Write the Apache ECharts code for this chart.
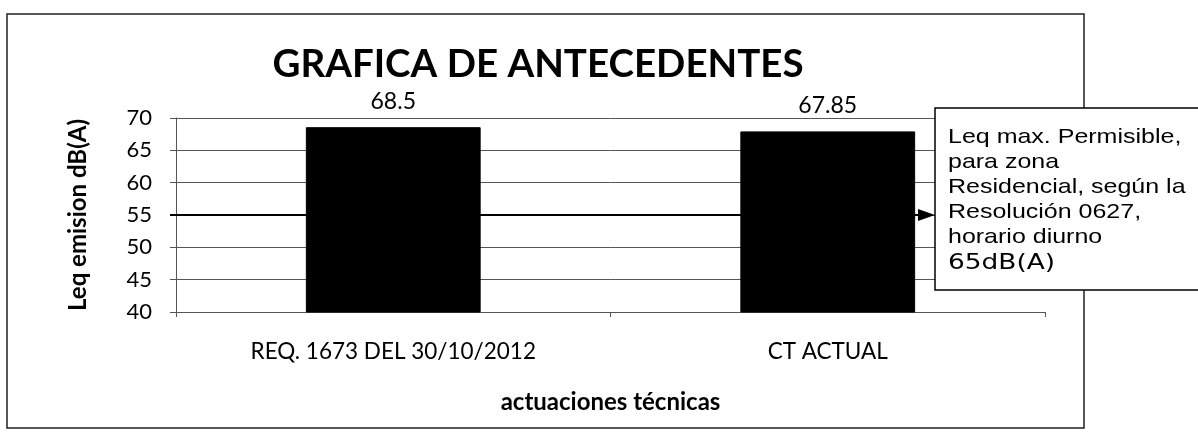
<!DOCTYPE html>
<html>
<head>
<meta charset="utf-8">
<script src="https://cdn.jsdelivr.net/npm/echarts@6/dist/echarts.min.js"></script>
<style>
html,body{margin:0;padding:0;background:#fff;}
#chart{width:1198px;height:437px;}
</style>
</head>
<body>
<div id="chart"></div>
<script>
const categories = ['REQ. 1673 DEL 30/10/2012', 'CT ACTUAL'];
const values = [68.5, 67.85];
const labelTexts = ['68.5', '67.85'];
const limitValue = 55;
const noteLines = ['Leq max. Permisible,', 'para zona', 'Residencial, según la', 'Resolución 0627,', 'horario diurno'];
const noteLast = '65dB(A)';

const FONT = 'Lato, "Open Sans", sans-serif';
const chart = echarts.init(document.getElementById('chart'), null, {renderer: 'canvas'});

const option = {
  backgroundColor: '#fff',
  animation: false,
  title: {
    text: 'GRAFICA DE ANTECEDENTES',
    left: 533, top: 40, textAlign: 'center',
    textStyle: {fontFamily: FONT, fontWeight: 'bold', fontSize: 38.5, color: '#000'}
  },
  grid: {left: 176, right: 153, top: 118, bottom: 125},
  xAxis: {
    type: 'category',
    data: categories,
    name: 'actuaciones técnicas',
    nameLocation: 'middle',
    nameGap: 78,
    nameTextStyle: {fontFamily: FONT, fontWeight: 'bold', fontSize: 24, color: '#000'},
    axisLine: {show: true, lineStyle: {color: '#555', width: 1}},
    axisTick: {show: true, length: 5, lineStyle: {color: '#555'}},
    axisLabel: {fontFamily: FONT, fontSize: 22.5, color: '#000', margin: 28}
  },
  yAxis: {
    type: 'value',
    min: 40, max: 70, interval: 5,
    name: 'Leq emision dB(A)',
    nameLocation: 'middle',
    nameGap: 86,
    nameRotate: 90,
    nameTextStyle: {fontFamily: FONT, fontWeight: 'bold', fontSize: 24, color: '#000'},
    axisLine: {show: true, lineStyle: {color: '#555', width: 1}},
    axisTick: {show: true, length: 6, inside: false, lineStyle: {color: '#555'}},
    axisLabel: {fontFamily: FONT, fontSize: 22, color: '#000', margin: 24},
    splitLine: {show: true, lineStyle: {color: '#555', width: 1}}
  },
  series: [{
    type: 'bar',
    data: values,
    barWidth: '40%',
    itemStyle: {color: '#000', borderColor: '#000'},
    label: {
      show: true, position: 'top', distance: 14,
      fontFamily: FONT, fontSize: 23, color: '#000',
      formatter: p => labelTexts[p.dataIndex]
    }
  }]
};
chart.setOption(option);

function addGraphics() {
  const y55 = chart.convertToPixel({yAxisIndex: 0}, limitValue);
  const boxLeft = 935, boxTop = 108, boxBottom = 290;
  const plotLeft = 170;
  const graphics = [
    {type: 'rect', shape: {x: 7, y: 14, width: 1077, height: 414}, style: {fill: null, stroke: '#222', lineWidth: 1.5}, z: 1, silent: true},
    {type: 'line', shape: {x1: plotLeft, y1: y55, x2: boxLeft - 12, y2: y55}, style: {stroke: '#000', lineWidth: 2}, z: 50},
    {type: 'polygon', shape: {points: [[boxLeft - 17, y55 - 6], [boxLeft, y55], [boxLeft - 17, y55 + 6]]}, style: {fill: '#000'}, z: 50},
    {type: 'rect', shape: {x: boxLeft, y: boxTop, width: 300, height: boxBottom - boxTop}, style: {fill: '#fff', stroke: '#000', lineWidth: 1.5}, z: 60}
  ];
  const centers = [137, 162, 187, 212, 237];
  noteLines.forEach((t, i) => {
    graphics.push({type: 'text', x: 948, y: centers[i], scaleX: 1.19, style: {text: t, fontFamily: '"Liberation Sans", Arial, sans-serif', fontSize: 21, fill: '#000', textVerticalAlign: 'middle'}, z: 61});
  });
  graphics.push({type: 'text', x: 948, y: 263, scaleX: 1.2, style: {text: noteLast, fontFamily: '"DejaVu Sans", sans-serif', fontSize: 22, fill: '#000', textVerticalAlign: 'middle'}, z: 61});
  chart.setOption({graphic: graphics});
}
addGraphics();
</script>
</body>
</html>
